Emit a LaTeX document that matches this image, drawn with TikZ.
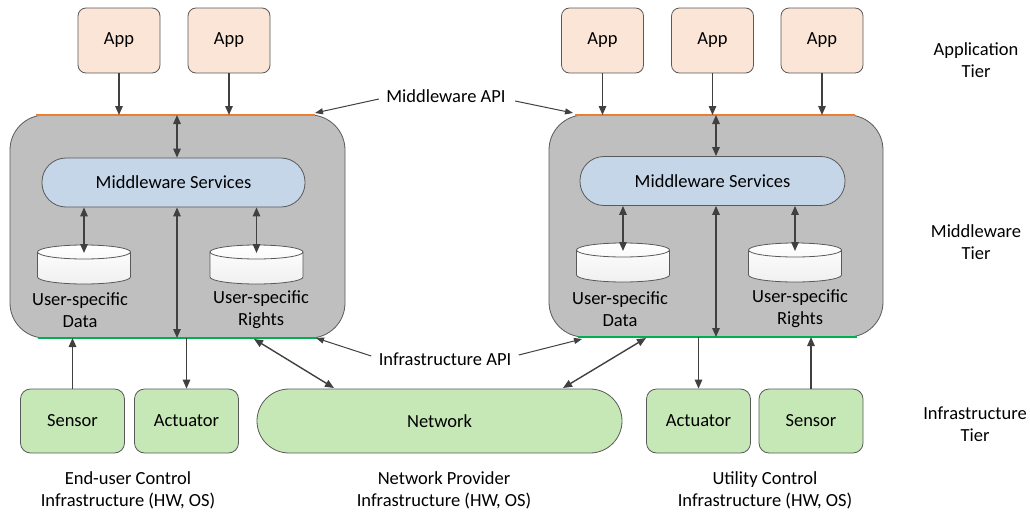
\documentclass[tikz,border=0pt]{standalone}
\usepackage{fontspec}
\setmainfont{Carlito}
\usetikzlibrary{arrows.meta,calc}

\definecolor{appfill}{HTML}{FBE5D6}
\definecolor{boxgray}{HTML}{BFBFBF}
\definecolor{svcblue}{HTML}{C5D6E8}
\definecolor{infgreen}{HTML}{C6E8B6}
\definecolor{edge}{HTML}{595959}
\definecolor{arrowc}{HTML}{404040}
\definecolor{apiorange}{HTML}{ED7D31}
\definecolor{apigreen}{HTML}{00B050}

\tikzset{
  txt/.style={font=\fontsize{18.5}{22}\selectfont, text=black, align=center},
  appbox/.style={txt, draw=edge, line width=0.8pt, fill=appfill, rounded corners=8pt,
                 minimum width=82pt, minimum height=65pt},
  mwbox/.style={draw=edge, line width=0.8pt, fill=boxgray, rounded corners=35pt},
  svc/.style={txt, draw=edge, line width=0.8pt, fill=svcblue, rounded corners=24pt,
              minimum height=49pt},
  infbox/.style={txt, draw=edge, line width=0.8pt, fill=infgreen, rounded corners=10pt,
                 minimum width=104pt, minimum height=64pt},
  dbcylstyle/.style={draw=edge, line width=0.8pt, top color=white, bottom color=gray!12},
  arr/.style={draw=arrowc, line width=1.4pt, -{Triangle[length=9pt,width=7.5pt]}},
  biarr/.style={draw=arrowc, line width=1.4pt, {Triangle[length=9pt,width=7.5pt]}-{Triangle[length=9pt,width=7.5pt]}},
  thinarr/.style={draw=arrowc, line width=1pt, -{Triangle[length=8pt,width=6pt]}},
  api/.style={line width=2pt},
}

% database cylinder: #1 name, #2 centre x, #3 y of top ellipse centre
\newcommand\dbcyl[3]{%
  \path[dbcylstyle] ({#2-46.5},#3) -- ({#2-46.5},{#3+25})
     arc[start angle=180, end angle=0, x radius=46.5, y radius=7]
     -- ({#2+46.5},#3)
     arc[start angle=0, end angle=-180, x radius=46.5, y radius=7] -- cycle;
  \draw[draw=edge, line width=0.8pt] ({#2-46.5},#3)
     arc[start angle=180, end angle=0, x radius=46.5, y radius=7];
  \coordinate (#1) at (#2,{#3+1});
}

\begin{document}
\begin{tikzpicture}[x=1pt,y=-1pt]
\useasboundingbox (0,0) rectangle (1030,514);

% ---------- application tier ----------
\node[appbox] (app1) at (119,40.5) {App};
\node[appbox] (app2) at (229,40.5) {App};
\node[appbox] (app3) at (602.5,40.5) {App};
\node[appbox] (app4) at (712.5,40.5) {App};
\node[appbox] (app5) at (822,40.5) {App};

% ---------- middleware tier ----------
\node[mwbox, minimum width=335pt, minimum height=223pt] (mwL) at (177.5,226.5) {};
\node[mwbox, minimum width=334pt, minimum height=222pt] (mwR) at (716,226) {};

% API lines on the middleware boxes
\draw[api, apiorange] (36,115) coordinate (apiLa) -- (315,115) coordinate (apiLb);
\draw[api, apiorange] (575,115) coordinate (apiRa) -- (855,115) coordinate (apiRb);
\draw[api, apigreen] (38,338) coordinate (infLa) -- (318,338) coordinate (infLb);
\draw[api, apigreen] (578,337) coordinate (infRa) -- (857,337) coordinate (infRb);

\node[svc, minimum width=263pt] (svcL) at (173.5,182.5) {Middleware Services};
\node[svc, minimum width=265pt] (svcR) at (712.5,181) {Middleware Services};

\dbcyl{dataL}{84}{252}
\dbcyl{rightsL}{256.5}{252}
\dbcyl{dataR}{623}{250}
\dbcyl{rightsR}{795}{250}

\node[txt] (dataLlbl) at (80,310) {User-specific\\Data};
\node[txt] (rightsLlbl) at (261,310) {User-specific\\Rights};
\node[txt] (dataRlbl) at (620,309) {User-specific\\Data};
\node[txt] (rightsRlbl) at (800,309) {User-specific\\Rights};

% ---------- infrastructure tier ----------
\node[infbox] (sensL) at (72.5,421) {Sensor};
\node[infbox] (actL) at (186.5,421) {Actuator};
\node[txt, draw=edge, line width=0.8pt, fill=infgreen, rounded corners=32pt,
      minimum width=365pt, minimum height=64pt] (net) at (439.5,421) {Network};
\node[infbox] (actR) at (698.5,421) {Actuator};
\node[infbox] (sensR) at (811,421) {Sensor};

% ---------- labels ----------
\node[txt] (mwapi) at (446,96) {Middleware API};
\node[txt] (infapi) at (445,359) {Infrastructure API};

\node[txt] (tierApp) at (976,60) {Application\\Tier};
\node[txt] (tierMw) at (976,242) {Middleware\\Tier};
\node[txt] (tierInf) at (975,424) {Infrastructure\\Tier};

\node[txt] (ownL) at (128,490) {End-user Control\\Infrastructure (HW, OS)};
\node[txt] (ownN) at (444,490) {Network Provider\\Infrastructure (HW, OS)};
\node[txt] (ownR) at (765,490) {Utility Control\\Infrastructure (HW, OS)};

% ---------- connectors ----------
% apps to middleware API
\draw[arr] (app1.south) -- (app1.south |- apiLa);
\draw[arr] (app2.south) -- (app2.south |- apiLa);
\draw[arr] (app3.south) -- (app3.south |- apiRa);
\draw[arr] (app4.south) -- (app4.south |- apiRa);
\draw[arr] (app5.south) -- (app5.south |- apiRa);

% middleware API to services
\coordinate (tL) at (177,115);
\coordinate (tR) at (716,115);
\draw[biarr] (tL) -- (tL |- svcL.north);
\draw[biarr] (tR) -- (tR |- svcR.north);

% services to stores
\draw[biarr] (dataL |- svcL.south) -- (dataL);
\draw[biarr] (rightsL |- svcL.south) -- (rightsL);
\draw[biarr] (dataR |- svcR.south) -- (dataR);
\draw[biarr] (rightsR |- svcR.south) -- (rightsR);

% services to infrastructure API
\draw[biarr] (tL |- svcL.south) -- (tL |- infLa);
\draw[biarr] (tR |- svcR.south) -- (tR |- infRa);

% infrastructure devices
\draw[arr] (sensL.north) -- (sensL.north |- infLa);
\draw[arr] (actL.north |- infLa) -- (actL.north);
\draw[arr] (actR.north |- infRa) -- (actR.north);
\draw[arr] (sensR.north) -- (sensR.north |- infRa);

% network links
\coordinate (nLtop) at (254,339);
\coordinate (nRtop) at (646,338);
\coordinate (netL) at (334,388);
\coordinate (netR) at (563,388);
\draw[biarr] (nLtop) -- (netL);
\draw[biarr] (nRtop) -- (netR);

% API callouts
\draw[thinarr] ($(mwapi.west)+(-4,3)$) -- (315,113);
\draw[thinarr] ($(mwapi.east)+(6,5)$) -- (573,113);
\draw[thinarr] ($(infapi.west)+(-4,-3)$) -- (316,338);
\draw[thinarr] ($(infapi.east)+(4,-4)$) -- (582,339);
\end{tikzpicture}
\end{document}
